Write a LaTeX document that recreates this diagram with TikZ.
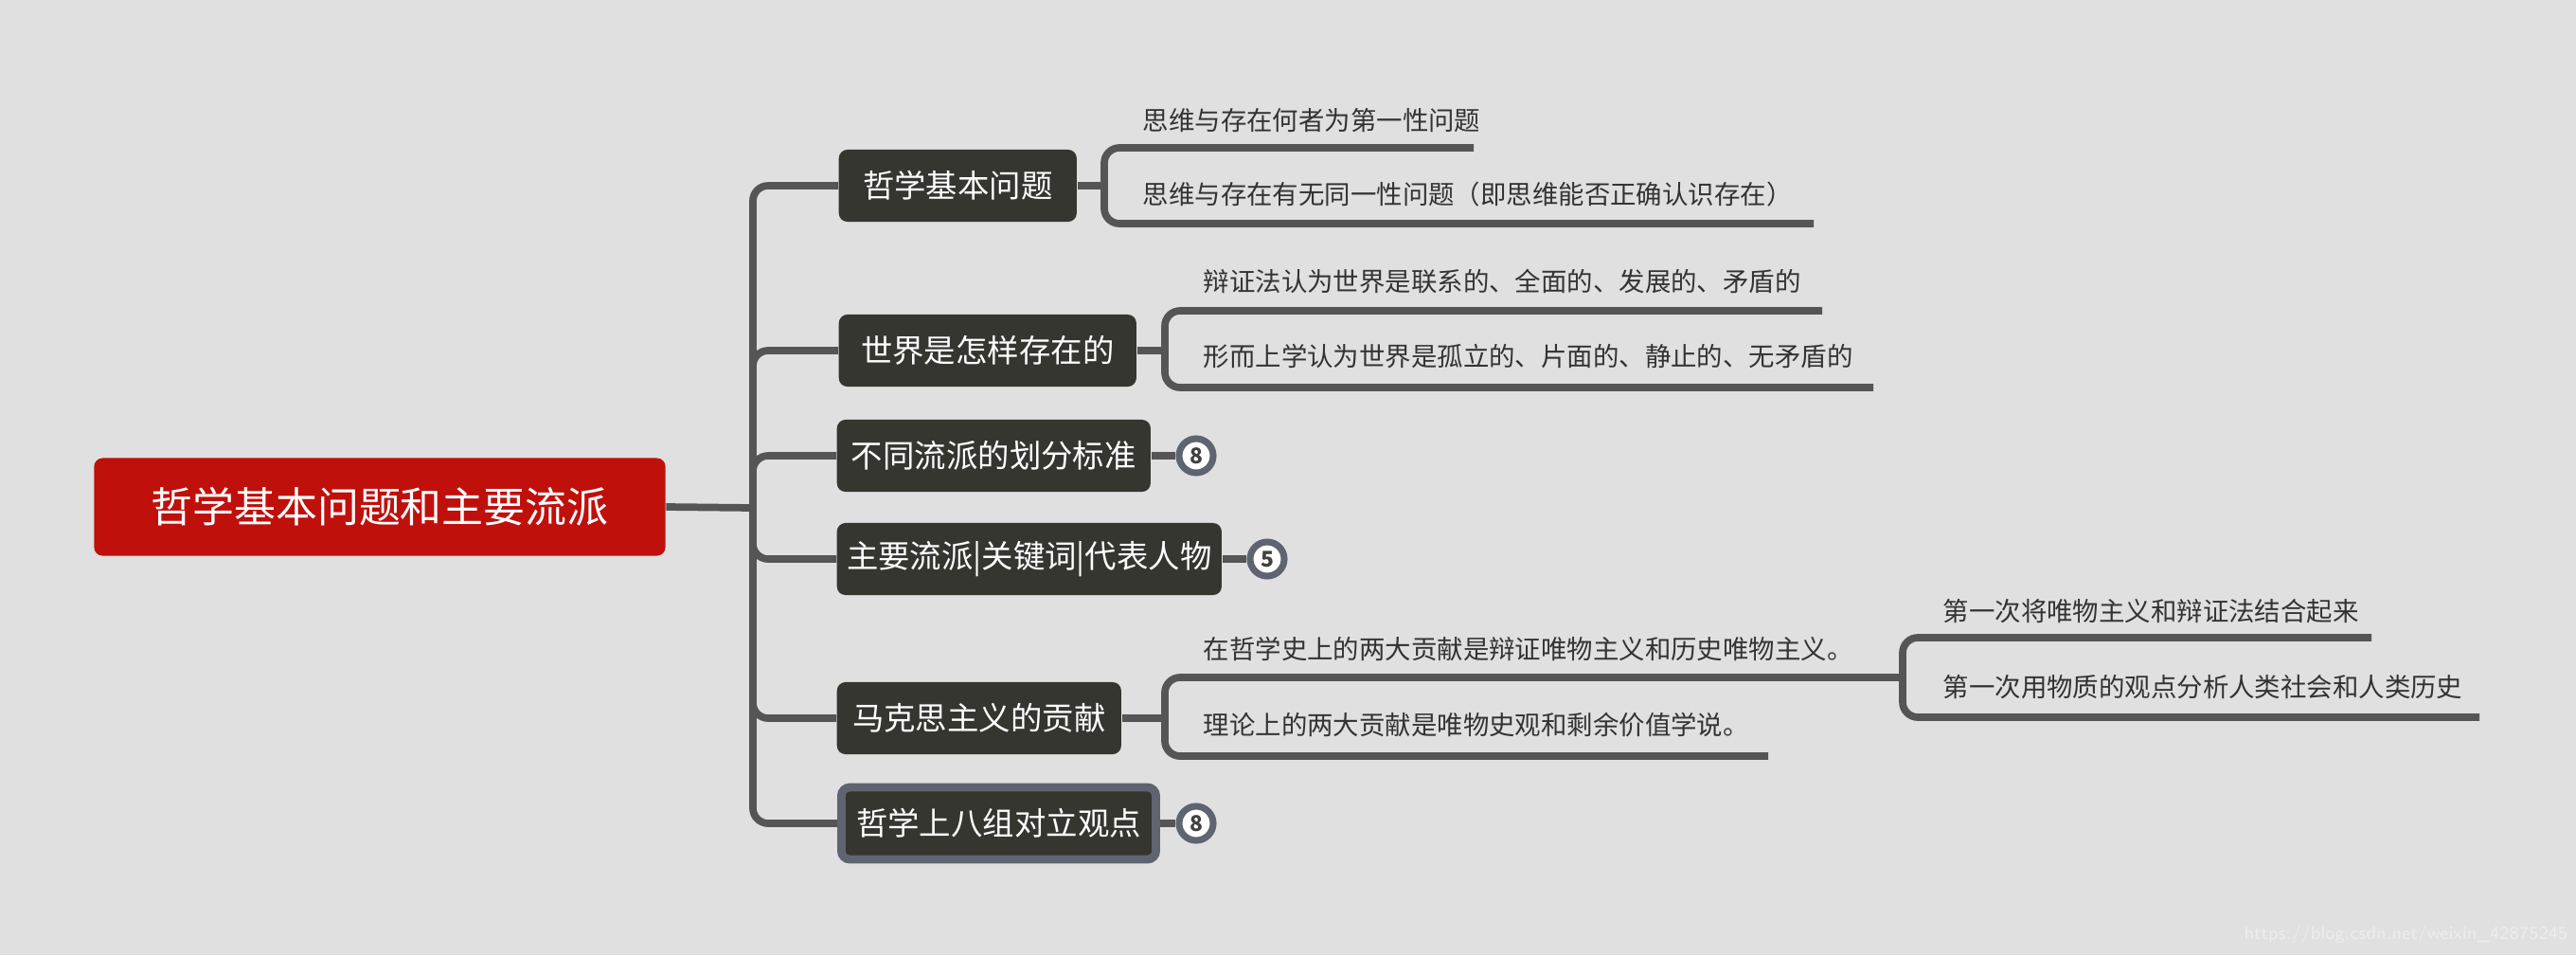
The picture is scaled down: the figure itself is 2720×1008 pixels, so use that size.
\documentclass[tikz,border=0pt]{standalone}
\usepackage{fontspec}
\setmainfont{Noto Sans CJK SC}
\begin{document}
\begin{tikzpicture}[x=0.01cm,y=-0.01cm,
  ln/.style={draw=lncol,line width=2.2pt,rounded corners=0.16cm},
  br/.style={fill=brfill,rounded corners=0.09cm,text=white,font=\fontsize{9.5}{11}\selectfont,inner sep=0,anchor=west,minimum height=0.76cm},
  lf/.style={font=\fontsize{7.8}{9}\selectfont,text=black!80,anchor=west,inner sep=0},
  badge/.style={circle,draw=badgecol,line width=2pt,fill=white,minimum size=0.36cm,inner sep=0,font=\fontsize{6.5}{7}\selectfont\bfseries,text=black!75}]
\definecolor{bg}{HTML}{E0E0E0}
\definecolor{brfill}{HTML}{363631}
\definecolor{rootred}{HTML}{C0100C}
\definecolor{lncol}{HTML}{555555}
\definecolor{badgecol}{HTML}{5E6470}
\fill[bg] (0,0) rectangle (2720,1008);
\useasboundingbox (0,0) rectangle (2720,1008);
% root
\node[fill=rootred,rounded corners=0.09cm,minimum width=6.03cm,minimum height=1.03cm,text=white,font=\fontsize{12.5}{14}\selectfont,inner sep=0] (root) at (401,535) {哲学基本问题和主要流派};
\coordinate (t) at (795,536);
\draw[ln] (root.east) -- (t);
% branches
\node[br,minimum width=2.51cm] (b1) at (885,196) {哲学基本问题};
\node[br,minimum width=3.14cm] (b2) at (885,370) {世界是怎样存在的};
\node[br,minimum width=3.31cm] (b3) at (883,481) {不同流派的划分标准};
\node[br,minimum width=4.06cm] (b4) at (883,590) {主要流派|关键词|代表人物};
\node[br,minimum width=3.00cm] (b5) at (883,758) {马克思主义的贡献};
\node[br,minimum width=3.32cm,draw=badgecol,line width=2.5pt] (b6) at (884,869) {哲学上八组对立观点};
\foreach \b in {b1,b2,b3,b4,b5,b6}{\draw[ln] (t) |- (\b.west);}
% badges
\node[badge] (n3) at (1263,481) {8};
\node[badge] (n4) at (1338,590) {5};
\node[badge] (n6) at (1263,869) {8};
\draw[ln] (b3.east) -- (n3.west);
\draw[ln] (b4.east) -- (n4.west);
\draw[ln] (b6.east) -- (n6.west);
% leaves of b1
\node[lf] (l11) at (1206,127) {思维与存在何者为第一性问题};
\node[lf] (l12) at (1206,205) {思维与存在有无同一性问题（即思维能否正确认识存在）};
\coordinate (k1) at (1166,196);
\draw[ln] (b1.east) -- (k1);
\draw[ln] (1556,156) -- (1166,156) -- (1166,236) -- (1915,236);
% leaves of b2
\node[lf] (l21) at (1270,297) {辩证法认为世界是联系的、全面的、发展的、矛盾的};
\node[lf] (l22) at (1270,376) {形而上学认为世界是孤立的、片面的、静止的、无矛盾的};
\coordinate (k2) at (1230,370);
\draw[ln] (b2.east) -- (k2);
\draw[ln] (1924,328) -- (1230,328) -- (1230,409) -- (1978,409);
% leaves of b5
\node[lf] (l51) at (1270,685) {在哲学史上的两大贡献是辩证唯物主义和历史唯物主义。};
\node[lf] (l52) at (1270,765) {理论上的两大贡献是唯物史观和剩余价值学说。};
\coordinate (k5) at (1230,758);
\draw[ln] (b5.east) -- (k5);
\draw[ln] (2009,715) -- (1230,715) -- (1230,798) -- (1867,798);
% sub leaves
\node[lf] (s1) at (2051,645) {第一次将唯物主义和辩证法结合起来};
\node[lf] (s2) at (2051,725) {第一次用物质的观点分析人类社会和人类历史};
\draw[ln] (2504,673) -- (2009,673) -- (2009,757) -- (2618,757);
% watermark
\node[anchor=east,inner sep=0,text=white!93!black,font=\fontsize{5.5}{6}\selectfont\sffamily] (wm) at (2712,987) {https://blog.csdn.net/weixin\_42875245};
\end{tikzpicture}
\end{document}
